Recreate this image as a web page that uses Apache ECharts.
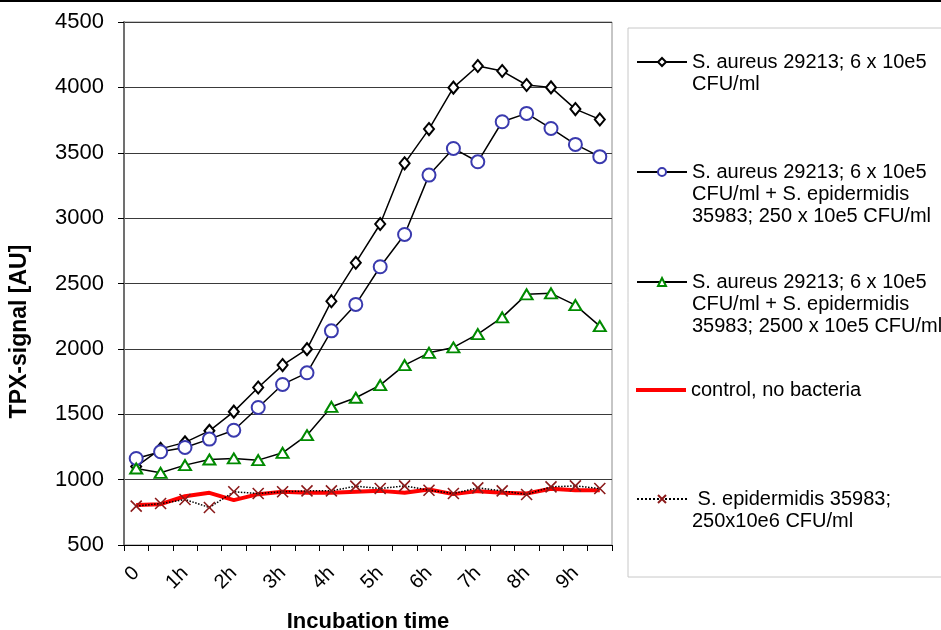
<!DOCTYPE html>
<html>
<head>
<meta charset="utf-8">
<script src="https://cdn.jsdelivr.net/npm/echarts@6/dist/echarts.min.js"></script>
<style>
html,body{margin:0;padding:0;background:#fff;}
#chart{width:941px;height:630px;}
</style>
</head>
<body>
<div id="chart"></div>
<script>
// ---- data ----
var categories = ['0','0.5h','1h','1.5h','2h','2.5h','3h','3.5h','4h','4.5h','5h','5.5h','6h','6.5h','7h','7.5h','8h','8.5h','9h','9.5h'];
var yTicks = [500, 1000, 1500, 2000, 2500, 3000, 3500, 4000, 4500];

var seriesNames = [
  'S. aureus 29213; 6 x 10e5 CFU/ml',
  'S. aureus 29213; 6 x 10e5 CFU/ml + S. epidermidis 35983; 250 x 10e5 CFU/ml',
  'S. aureus 29213; 6 x 10e5 CFU/ml + S. epidermidis 35983; 2500 x 10e5 CFU/ml',
  'control, no bacteria',
  'S. epidermidis 35983; 250x10e6 CFU/ml'
];
var legendLabels = [
  'S. aureus 29213; 6 x 10e5\nCFU/ml',
  'S. aureus 29213; 6 x 10e5\nCFU/ml + S. epidermidis\n35983; 250 x 10e5 CFU/ml',
  'S. aureus 29213; 6 x 10e5\nCFU/ml + S. epidermidis\n35983; 2500 x 10e5 CFU/ml',
  'control, no bacteria',
  ' S. epidermidis 35983;\n250x10e6 CFU/ml'
];

var aureus        = [1100,1235,1285,1373,1520,1705,1876,1998,2365,2659,2955,3419,3681,3998,4163,4125,4018,4000,3834,3755];
var aureusEpi250  = [1162,1213,1246,1310,1378,1552,1728,1817,2138,2340,2628,2875,3329,3533,3431,3737,3801,3686,3564,3470];
var aureusEpi2500 = [1085,1052,1111,1154,1162,1149,1205,1340,1557,1626,1723,1876,1970,2011,2113,2241,2417,2425,2335,2174];
var control       = [805,812,873,899,843,889,907,899,899,907,914,899,925,889,912,899,894,930,918,918];
var epidermidis   = [797,817,848,787,907,894,907,914,914,950,932,952,919,894,937,914,886,945,952,932];

// ---- chart ----
var FONT = '"Liberation Sans", Arial, sans-serif';
var chart = echarts.init(document.getElementById('chart'), null, {renderer: 'canvas'});

var legendIconY = [62, 172, 282, 390, 499];
var LH = 22;
function blankLines(k) { var s = ''; for (var j = 0; j < k; j++) { s += ' \n'; } return s; }
var legends = legendLabels.map(function (lab, i) {
  var n = lab.split('\n').length;
  var text = blankLines(n - 1) + lab;
  return {
    show: true,
    data: [seriesNames[i]],
    left: 636,
    top: legendIconY[i] - (2 * n - 1) * LH / 2,
    padding: 0,
    itemWidth: 50,
    itemHeight: i === 3 ? 4 : 10,
    icon: i === 3 ? 'rect' : undefined,
    selectedMode: false,
    formatter: function () { return text; },
    textStyle: {fontFamily: FONT, fontSize: 20, color: '#000', lineHeight: LH}
  };
});

var option = {
  backgroundColor: '#fff',
  animation: false,
  textStyle: {fontFamily: FONT},
  grid: {left: 124, right: 329, top: 22, bottom: 85, show: true, borderColor: '#8c8c8c', borderWidth: 1,
         outerBoundsMode: 'none', containLabel: false},
  legend: legends,
  graphic: [
    {type: 'rect', shape: {x: 628, y: 28, width: 340, height: 549}, style: {fill: 'none', stroke: '#c8c8c8', lineWidth: 1}},
    {type: 'line', shape: {x1: 0, y1: 1, x2: 941, y2: 1}, style: {stroke: '#000', lineWidth: 2}}
  ],
  xAxis: {
    type: 'category',
    data: categories,
    boundaryGap: true,
    name: 'Incubation time',
    nameLocation: 'middle',
    nameGap: 66,
    nameTextStyle: {fontFamily: FONT, fontSize: 22, fontWeight: 'bold', color: '#000'},
    axisLine: {lineStyle: {color: '#000', width: 1}},
    axisTick: {show: true, length: 6, lineStyle: {color: '#000'}, interval: 0},
    axisLabel: {interval: 1, rotate: 45, fontSize: 20, color: '#000', fontFamily: FONT, margin: 25},
    splitLine: {show: false}
  },
  yAxis: {
    type: 'value',
    min: yTicks[0],
    max: yTicks[yTicks.length - 1],
    interval: yTicks[1] - yTicks[0],
    name: 'TPX-signal [AU]',
    nameLocation: 'middle',
    nameRotate: 90,
    nameGap: 93,
    nameTextStyle: {fontFamily: FONT, fontSize: 23, fontWeight: 'bold', color: '#000', padding: [0, 96, 0, 0]},
    axisLine: {show: true, lineStyle: {color: '#707070', width: 2}},
    axisTick: {show: true, length: 6, inside: false, lineStyle: {color: '#000'}},
    axisLabel: {fontSize: 22, color: '#000', fontFamily: FONT, margin: 20, formatter: function (v) { return String(v); }},
    splitLine: {show: true, lineStyle: {color: '#3a3a3a', width: 1}}
  },
  series: [
    {
      name: seriesNames[0], type: 'line', data: aureus,
      symbol: 'emptyDiamond', symbolSize: [10, 12],
      lineStyle: {color: '#000', width: 1.5},
      itemStyle: {color: '#000', borderColor: '#000', borderWidth: 1.3},
      z: 4
    },
    {
      name: seriesNames[1], type: 'line', data: aureusEpi250,
      symbol: 'emptyCircle', symbolSize: 13,
      lineStyle: {color: '#000', width: 1.5},
      itemStyle: {color: '#3a3aae', borderColor: '#3a3aae', borderWidth: 1.5},
      z: 4
    },
    {
      name: seriesNames[2], type: 'line', data: aureusEpi2500,
      symbol: 'emptyTriangle', symbolSize: [12, 10],
      lineStyle: {color: '#000', width: 1.5},
      itemStyle: {color: '#008a00', borderColor: '#008a00', borderWidth: 1.8},
      z: 4
    },
    {
      name: seriesNames[3], type: 'line', data: control,
      symbol: 'none',
      lineStyle: {color: '#ff0000', width: 4},
      itemStyle: {color: '#ff0000'},
      z: 3
    },
    {
      name: seriesNames[4], type: 'line', data: epidermidis,
      symbol: 'path://M0,0L10,10M10,0L0,10', symbolSize: 11,
      lineStyle: {color: '#000', width: 1.5, type: 'dotted'},
      itemStyle: {color: 'none', borderColor: '#8b1a1a', borderWidth: 1.6},
      z: 4
    }
  ]
};
chart.setOption(option);
</script>
</body>
</html>
